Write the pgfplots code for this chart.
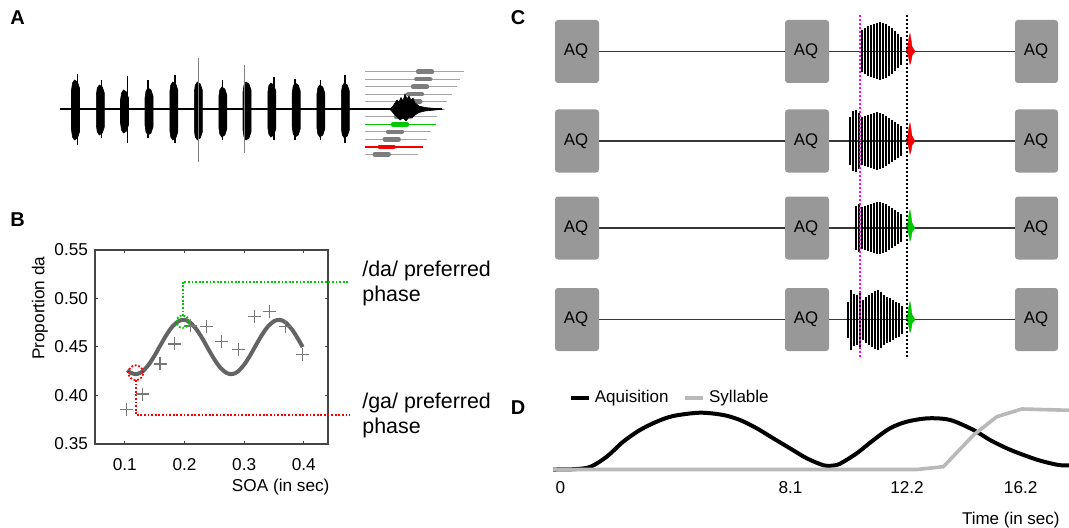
\documentclass[border=0pt]{standalone}
\usepackage{fontspec}
\setmainfont{Liberation Sans}
\setsansfont{Liberation Sans}
\usepackage{pgfplots}
\pgfplotsset{compat=1.18}
\newcommand{\fs}[1]{\fontsize{#1bp}{12bp}\selectfont}
\definecolor{boxgray}{RGB}{152,152,152}
\definecolor{linegray}{RGB}{165,165,165}
\definecolor{blobgray}{RGB}{125,125,125}
\definecolor{curvegray}{RGB}{100,100,100}
\definecolor{crossgray}{RGB}{120,120,120}
\definecolor{axgray}{RGB}{70,70,70}
\definecolor{sylgray}{RGB}{185,185,185}
\definecolor{dgreen}{RGB}{0,200,0}
\definecolor{dred}{RGB}{245,0,0}
\definecolor{dmag}{RGB}{255,0,255}
\definecolor{cline}{RGB}{55,55,55}
\pgfplotsset{vbars/.style={only marks, mark=*, mark size=0pt, mark options={draw=none, fill=none},
  error bars/.cd, y dir=both, y explicit, error mark=none}}
\begin{document}
\begin{tikzpicture}
%================ canvas (pixel coordinates) =================
\begin{axis}[at={(0bp,0bp)}, anchor=south west, width=534.5bp, height=264bp,
  scale only axis, xmin=0, xmax=1069, ymin=0, ymax=528, y dir=reverse,
  hide axis, clip=false]
% panel letters
\node[font=\bfseries\fs{10}, inner sep=0pt] at (axis cs:17.5,18) {A};
\node[font=\bfseries\fs{10}, inner sep=0pt] at (axis cs:17.5,219.5) {B};
\node[font=\bfseries\fs{10}, inner sep=0pt] at (axis cs:518,18) {C};
\node[font=\bfseries\fs{10}, inner sep=0pt] at (axis cs:518,408) {D};
% ---- A: stacked syllable lines
\addplot[linegray, line width=0.7bp, unbounded coords=jump] coordinates {
(365,71.7) (464,71.7) (nan,nan)
(365,79.3) (460,79.3) (nan,nan)
(365,86.7) (456.7,86.7) (nan,nan)
(365,94.3) (451.7,94.3) (nan,nan)
(365,101.7) (447.3,101.7) (nan,nan)
(365,116.7) (436.7,116.7) (nan,nan)
(365,131.7) (430.7,131.7) (nan,nan)
(365,139.3) (426.7,139.3) (nan,nan)
(365,154.3) (418.3,154.3)
};
\addplot[dgreen, line width=0.8bp] coordinates {(365,124.3) (436,124.3)};
\addplot[dred, line width=0.8bp] coordinates {(365,146.7) (423.3,146.7)};
\addplot[blobgray, line width=2.2bp, line cap=round, unbounded coords=jump] coordinates {
(418,71.7) (432,71.7) (nan,nan)
(416.3,79.3) (430.3,79.3) (nan,nan)
(413,86.7) (427,86.7) (nan,nan)
(408,94.3) (422,94.3) (nan,nan)
(406.3,101.7) (420.3,101.7) (nan,nan)
(396,116.7) (410,116.7) (nan,nan)
(388,131.7) (402,131.7) (nan,nan)
(384.7,139.3) (398.7,139.3) (nan,nan)
(374.7,154.3) (388.7,154.3)
};
\addplot[dgreen, line width=2.2bp, line cap=round] coordinates {(393,124.3) (407,124.3)};
\addplot[dred, line width=2.2bp, line cap=round] coordinates {(379.7,146.7) (393.7,146.7)};
% ---- A: main line and bursts
\addplot[black, line width=0.8bp] coordinates {(60,109.3) (442,109.3)};
\addplot[black, fill=black, line width=0.3bp] coordinates {(71.5,90) (72.5,83) (74.5,80) (77.5,82) (79.5,88) (79.5,132) (77.5,138) (74.5,140) (72.5,137) (71.5,130)} -- cycle;
\addplot[black, fill=black, line width=0.3bp] coordinates {(96.3,95) (97.3,88) (99.3,85) (102.3,87) (104.3,93) (104.3,127) (102.3,133) (99.3,135) (97.3,132) (96.3,125)} -- cycle;
\addplot[black, fill=black, line width=0.3bp] coordinates {(120.5,100) (121.5,93) (123.5,90) (126.5,92) (128.5,98) (128.5,125) (126.5,131) (123.5,133) (121.5,130) (120.5,123)} -- cycle;
\addplot[black, fill=black, line width=0.3bp] coordinates {(145,98) (146,91) (148,88) (151,90) (153,96) (153,127) (151,133) (148,135) (146,132) (145,125)} -- cycle;
\addplot[black, fill=black, line width=0.3bp] coordinates {(169.8,92) (170.8,85) (172.8,82) (175.8,84) (177.8,90) (177.8,132) (175.8,138) (172.8,140) (170.8,137) (169.8,130)} -- cycle;
\addplot[black, fill=black, line width=0.3bp] coordinates {(194.3,92) (195.3,85) (197.3,82) (200.3,84) (202.3,90) (202.3,132) (200.3,138) (197.3,140) (195.3,137) (194.3,130)} -- cycle;
\addplot[black, fill=black, line width=0.3bp] coordinates {(218.8,97) (219.8,90) (221.8,87) (224.8,89) (226.8,95) (226.8,129) (224.8,135) (221.8,137) (219.8,134) (218.8,127)} -- cycle;
\addplot[black, fill=black, line width=0.3bp] coordinates {(243,92) (244,85) (246,82) (249,84) (251,90) (251,132) (249,138) (246,140) (244,137) (243,130)} -- cycle;
\addplot[black, fill=black, line width=0.3bp] coordinates {(267.8,93) (268.8,86) (270.8,83) (273.8,85) (275.8,91) (275.8,129) (273.8,135) (270.8,137) (268.8,134) (267.8,127)} -- cycle;
\addplot[black, fill=black, line width=0.3bp] coordinates {(292.2,93) (293.2,86) (295.2,83) (298.2,85) (300.2,91) (300.2,129) (298.2,135) (295.2,137) (293.2,134) (292.2,127)} -- cycle;
\addplot[black, fill=black, line width=0.3bp] coordinates {(316.8,95) (317.8,88) (319.8,85) (322.8,87) (324.8,93) (324.8,129) (322.8,135) (319.8,137) (317.8,134) (316.8,127)} -- cycle;
\addplot[black, fill=black, line width=0.3bp] coordinates {(341.3,93) (342.3,86) (344.3,83) (347.3,85) (349.3,91) (349.3,130) (347.3,136) (344.3,138) (342.3,135) (341.3,128)} -- cycle;
\addplot[black, vbars, error bar style={line width=0.7bp}] coordinates {
(77.3,109.5) +- (0,35.5) (101.7,109) +- (0,29) (127.7,109.5) +- (0,33.5) (148,109) +- (0,29)
(175,109) +- (0,34) (222.7,110) +- (0,30) (274,108.5) +- (0,31.5) (295,109.5) +- (0,30.5)
(320.7,110) +- (0,30) (345,109) +- (0,34)};
\addplot[gray, vbars, error bar style={line width=0.8bp}] coordinates {
(198.3,110) +- (0,52) (244.3,109) +- (0,44)};
% central syllable burst
\addplot[black, fill=black, line width=0.3bp] coordinates {(390,109.3) (393,106) (395,103) (397,100) (399,102) (401,97.5) (403,101) (405,94) (407,99) (409,96) (411,100) (413,98) (415,103) (419,106) (425,107.5) (435,108.5) (442,109.3) (435,110) (425,111) (419,112.5) (415,115) (412,118) (409,117) (406,121) (403,118) (400,120) (397,117) (394,114) (392,111.5)} -- cycle;
% ---- B annotations (text)
\node[anchor=base west, inner sep=0pt, font=\fs{10.7}] at (axis cs:362,276.7) {/da/ preferred};
\node[anchor=base west, inner sep=0pt, font=\fs{10.7}] at (axis cs:362,301.7) {phase};
\node[anchor=base west, inner sep=0pt, font=\fs{10.7}] at (axis cs:362,408.3) {/ga/ preferred};
\node[anchor=base west, inner sep=0pt, font=\fs{10.7}] at (axis cs:362,433.3) {phase};
% ---- C: connecting lines
\addplot[cline, line width=0.7bp, unbounded coords=jump] coordinates {
(599,51.5) (785,51.5) (nan,nan) (828,51.5) (1015,51.5) (nan,nan)
(599,141) (785,141) (nan,nan) (828,141) (1015,141) (nan,nan)
(599,228) (785,228) (nan,nan) (828,228) (1015,228) (nan,nan)
(599,319.5) (785,319.5) (nan,nan) (828,319.5) (1015,319.5)};
% AQ boxes
\addplot[fill=boxgray, draw=none, rounded corners=1.5bp] coordinates {(555,20) (599,20) (599,83) (555,83)} -- cycle;
\addplot[fill=boxgray, draw=none, rounded corners=1.5bp] coordinates {(785,20) (829,20) (829,83) (785,83)} -- cycle;
\addplot[fill=boxgray, draw=none, rounded corners=1.5bp] coordinates {(1015,20) (1058,20) (1058,83) (1015,83)} -- cycle;
\addplot[fill=boxgray, draw=none, rounded corners=1.5bp] coordinates {(555,109.5) (599,109.5) (599,172.5) (555,172.5)} -- cycle;
\addplot[fill=boxgray, draw=none, rounded corners=1.5bp] coordinates {(785,109.5) (829,109.5) (829,172.5) (785,172.5)} -- cycle;
\addplot[fill=boxgray, draw=none, rounded corners=1.5bp] coordinates {(1015,109.5) (1058,109.5) (1058,172.5) (1015,172.5)} -- cycle;
\addplot[fill=boxgray, draw=none, rounded corners=1.5bp] coordinates {(555,196.5) (599,196.5) (599,259.5) (555,259.5)} -- cycle;
\addplot[fill=boxgray, draw=none, rounded corners=1.5bp] coordinates {(785,196.5) (829,196.5) (829,259.5) (785,259.5)} -- cycle;
\addplot[fill=boxgray, draw=none, rounded corners=1.5bp] coordinates {(1015,196.5) (1058,196.5) (1058,259.5) (1015,259.5)} -- cycle;
\addplot[fill=boxgray, draw=none, rounded corners=1.5bp] coordinates {(555,288) (599,288) (599,351) (555,351)} -- cycle;
\addplot[fill=boxgray, draw=none, rounded corners=1.5bp] coordinates {(785,288) (829,288) (829,351) (785,351)} -- cycle;
\addplot[fill=boxgray, draw=none, rounded corners=1.5bp] coordinates {(1015,288) (1058,288) (1058,351) (1015,351)} -- cycle;
\node[font=\fs{8.4}] at (axis cs:576,51.5) {AQ};
\node[font=\fs{8.4}] at (axis cs:806,51.5) {AQ};
\node[font=\fs{8.4}] at (axis cs:1036,51.5) {AQ};
\node[font=\fs{8.4}] at (axis cs:576,141) {AQ};
\node[font=\fs{8.4}] at (axis cs:806,141) {AQ};
\node[font=\fs{8.4}] at (axis cs:1036,141) {AQ};
\node[font=\fs{8.4}] at (axis cs:576,228) {AQ};
\node[font=\fs{8.4}] at (axis cs:806,228) {AQ};
\node[font=\fs{8.4}] at (axis cs:1036,228) {AQ};
\node[font=\fs{8.4}] at (axis cs:576,319.5) {AQ};
\node[font=\fs{8.4}] at (axis cs:806,319.5) {AQ};
\node[font=\fs{8.4}] at (axis cs:1036,319.5) {AQ};
% C bursts
\addplot[black, vbars, error bar style={line width=0.55bp}] coordinates {
(862,51.5) +- (0,21) (865,51.5) +- (0,23) (868,51.5) +- (0,25) (871,51.5) +- (0,26) (874,51.5) +- (0,27)
(877,51.5) +- (0,28) (880,51.5) +- (0,29) (883,51.5) +- (0,28) (886,51.5) +- (0,27) (889,51.5) +- (0,25)
(892,51.5) +- (0,23) (895,51.5) +- (0,20) (898,51.5) +- (0,17) (901,51.5) +- (0,14)
(850,141) +- (0,24) (853,141) +- (0,30) (856,141) +- (0,31) (859,141) +- (0,28) (862,141) +- (0,24)
(865,141) +- (0,25) (868,141) +- (0,26) (871,141) +- (0,27) (874,141) +- (0,28) (877,141) +- (0,29)
(880,141) +- (0,28) (883,141) +- (0,27) (886,141) +- (0,25) (889,141) +- (0,23) (892,141) +- (0,21)
(895,141) +- (0,19) (898,141) +- (0,17) (901,141) +- (0,15)
(856,228) +- (0,22) (859,228) +- (0,24) (862,228) +- (0,21) (865,228) +- (0,22) (868,228) +- (0,23)
(871,228) +- (0,24) (874,228) +- (0,25) (877,228) +- (0,26) (880,228) +- (0,26) (883,228) +- (0,25)
(886,228) +- (0,24) (889,228) +- (0,22) (892,228) +- (0,20) (895,228) +- (0,18) (898,228) +- (0,16)
(901,228) +- (0,14)
(848,319.5) +- (0,18) (851,319.5) +- (0,30) (854,319.5) +- (0,26) (857,319.5) +- (0,25) (860,319.5) +- (0,27)
(863,319.5) +- (0,20) (866,319.5) +- (0,23) (869,319.5) +- (0,25) (872,319.5) +- (0,27) (875,319.5) +- (0,29)
(878,319.5) +- (0,30) (881,319.5) +- (0,28) (884,319.5) +- (0,25) (887,319.5) +- (0,23) (890,319.5) +- (0,22)
(893,319.5) +- (0,20) (896,319.5) +- (0,18) (899,319.5) +- (0,17) (902,319.5) +- (0,14)};
% red / green syllable onsets
\addplot[dred, fill=dred, line width=0.2bp] coordinates {(906,51.5) (908,45.5) (909,37.5) (910,33.5) (911,39.5) (912,46.5) (915,51.5) (912,55.5) (911,61.5) (910,64.5) (909,59.5) (908,54.5)} -- cycle;
\addplot[dred, fill=dred, line width=0.2bp] coordinates {(906,141) (908,135) (909,127) (910,123) (911,129) (912,136) (915,141) (912,145) (911,151) (910,154) (909,149) (908,144)} -- cycle;
\addplot[dgreen, fill=dgreen, line width=0.2bp] coordinates {(906,228) (908,222) (909,214) (910,210) (911,216) (912,223) (915,228) (912,232) (911,238) (910,241) (909,236) (908,231)} -- cycle;
\addplot[dgreen, fill=dgreen, line width=0.2bp] coordinates {(906,319.5) (908,313.5) (909,305.5) (910,301.5) (911,307.5) (912,314.5) (915,319.5) (912,323.5) (911,329.5) (910,332.5) (909,327.5) (908,322.5)} -- cycle;
% dotted reference lines
\addplot[dmag, line width=1bp, dash pattern=on 1bp off 1bp] coordinates {(860,15) (860,358)};
\addplot[black, line width=1bp, dash pattern=on 1bp off 1bp] coordinates {(906.7,15) (906.7,358)};
% D x label
\node[anchor=base east, inner sep=0pt, font=\fs{8.5}] at (axis cs:1060,524) {Time (in sec)};
\end{axis}
%================ B =================
\begin{axis}[at={(47.5bp,42bp)}, anchor=south west, width=116.5bp, height=97bp,
  scale only axis, xmin=0.05, xmax=0.4405, ymin=0.35, ymax=0.55,
  xtick={0.1,0.2,0.3,0.4}, xticklabels={0.1,0.2,0.3,0.4},
  ytick={0.35,0.4,0.45,0.5,0.55}, yticklabels={0.35,0.40,0.45,0.50,0.55},
  tick align=inside, major tick length=1.4bp,
  axis line style={draw=axgray, line width=0.6bp},
  tick style={axgray, line width=0.5bp},
  ticklabel style={font=\fs{8.6}},
  xticklabel style={yshift=-3.5bp},
  xlabel={SOA (in sec)}, ylabel={Proportion da},
  label style={font=\fs{8.6}},
  xlabel style={at={(axis description cs:0.797,-0.222)}, anchor=center},
  ylabel style={at={(axis description cs:-0.236,0.70)}, anchor=center},
  clip=false]
\addplot[crossgray, only marks, mark=+, mark size=3.25bp, mark options={line width=0.55bp}] coordinates {
(0.1034,0.3858) (0.1296,0.4015) (0.159,0.4325) (0.1838,0.4531) (0.2106,0.4717) (0.2374,0.4709)
(0.262,0.4555) (0.29,0.4476) (0.3167,0.4812) (0.3418,0.4864) (0.3698,0.4709) (0.3978,0.4424)};
\addplot[curvegray, line width=2bp, smooth] coordinates {
(0.104,0.4261) (0.11,0.4234) (0.118,0.422) (0.125,0.4231) (0.13,0.4250) (0.14,0.4318) (0.15,0.4413)
(0.16,0.4522) (0.17,0.4627) (0.18,0.4713) (0.19,0.4766) (0.198,0.478) (0.205,0.4770) (0.21,0.4750)
(0.22,0.4682) (0.23,0.4587) (0.24,0.4478) (0.25,0.4373) (0.26,0.4287) (0.27,0.4234) (0.278,0.422)
(0.285,0.4230) (0.29,0.4250) (0.30,0.4318) (0.31,0.4413) (0.32,0.4522) (0.33,0.4627) (0.34,0.4713)
(0.35,0.4766) (0.358,0.478) (0.365,0.4770) (0.37,0.4750) (0.38,0.4682) (0.39,0.4587) (0.398,0.4499)};
\addplot[dred, line width=0.9bp, dash pattern=on 0.9bp off 0.9bp] coordinates {(0.1184,0.4160) (0.1184,0.38) (0.477,0.38)};
\addplot[dgreen, line width=0.9bp, dash pattern=on 0.9bp off 0.9bp] coordinates {(0.197,0.482) (0.197,0.5173) (0.477,0.5173)};
\addplot[only marks, mark=o, mark size=3.7bp, mark options={draw=dred, line width=0.9bp, dash pattern=on 0.9bp off 0.9bp}] coordinates {(0.1184,0.4235)};
\addplot[only marks, mark=o, mark size=3.1bp, mark options={draw=dgreen, line width=0.9bp, dash pattern=on 0.9bp off 0.9bp}] coordinates {(0.197,0.4761)};
\end{axis}
%================ D =================
\begin{axis}[at={(276.5bp,29.25bp)}, anchor=south west, width=258bp, height=40bp,
  scale only axis, xmin=-0.26, xmax=17.9, ymin=0, ymax=80,
  axis line style={draw=none}, ytick=\empty,
  xtick={0,8.1,12.2,16.2}, xticklabels={0,8.1,12.2,16.2},
  xtick style={draw=none}, major tick length=0pt,
  xticklabel style={font=\fs{8.6}, yshift=-2.5bp},
  clip=false, legend columns=2,
  legend style={draw=none, fill=none, at={(axis description cs:0.03,0.8975)}, anchor=west,
    font=\fs{8.5}, inner sep=0pt, /tikz/every even column/.append style={column sep=5.5bp}},
  legend image code/.code={\draw[#1] (0bp,0bp) -- (9bp,0bp);}]
\addplot[black, line width=2bp, smooth] coordinates {
(-0.26,0) (0.45,0.3) (1.04,2.5) (1.63,12.8) (2.21,27.8) (2.80,39.5) (3.39,47.8) (3.97,53.5)
(4.91,56.8) (5.73,54.5) (6.32,49.5) (6.91,41.2) (7.49,31.2) (8.08,21.2) (8.67,11.2) (9.26,4.2)
(9.55,3.8) (9.84,5.8) (10.43,16.2) (11.02,29.5) (11.60,41.2) (12.19,47.8) (12.95,51.2) (13.72,49.5)
(14.54,39.5) (15.12,29.5) (15.71,21.2) (16.30,14.5) (16.89,8.8) (17.53,4.5) (17.9,4.2)};
\addlegendentry{Aquisition}
\addplot[sylgray, line width=1.8bp] coordinates {
(-0.26,0) (12.54,0) (13.48,2.8) (14.54,34.5) (15.36,52.8) (16.24,60.5) (17.53,59.5) (17.9,59.3)};
\addlegendentry{Syllable}
\end{axis}
\pgfresetboundingbox
\path[use as bounding box] (0bp,0bp) rectangle (534.5bp,264bp);
\end{tikzpicture}
\end{document}
